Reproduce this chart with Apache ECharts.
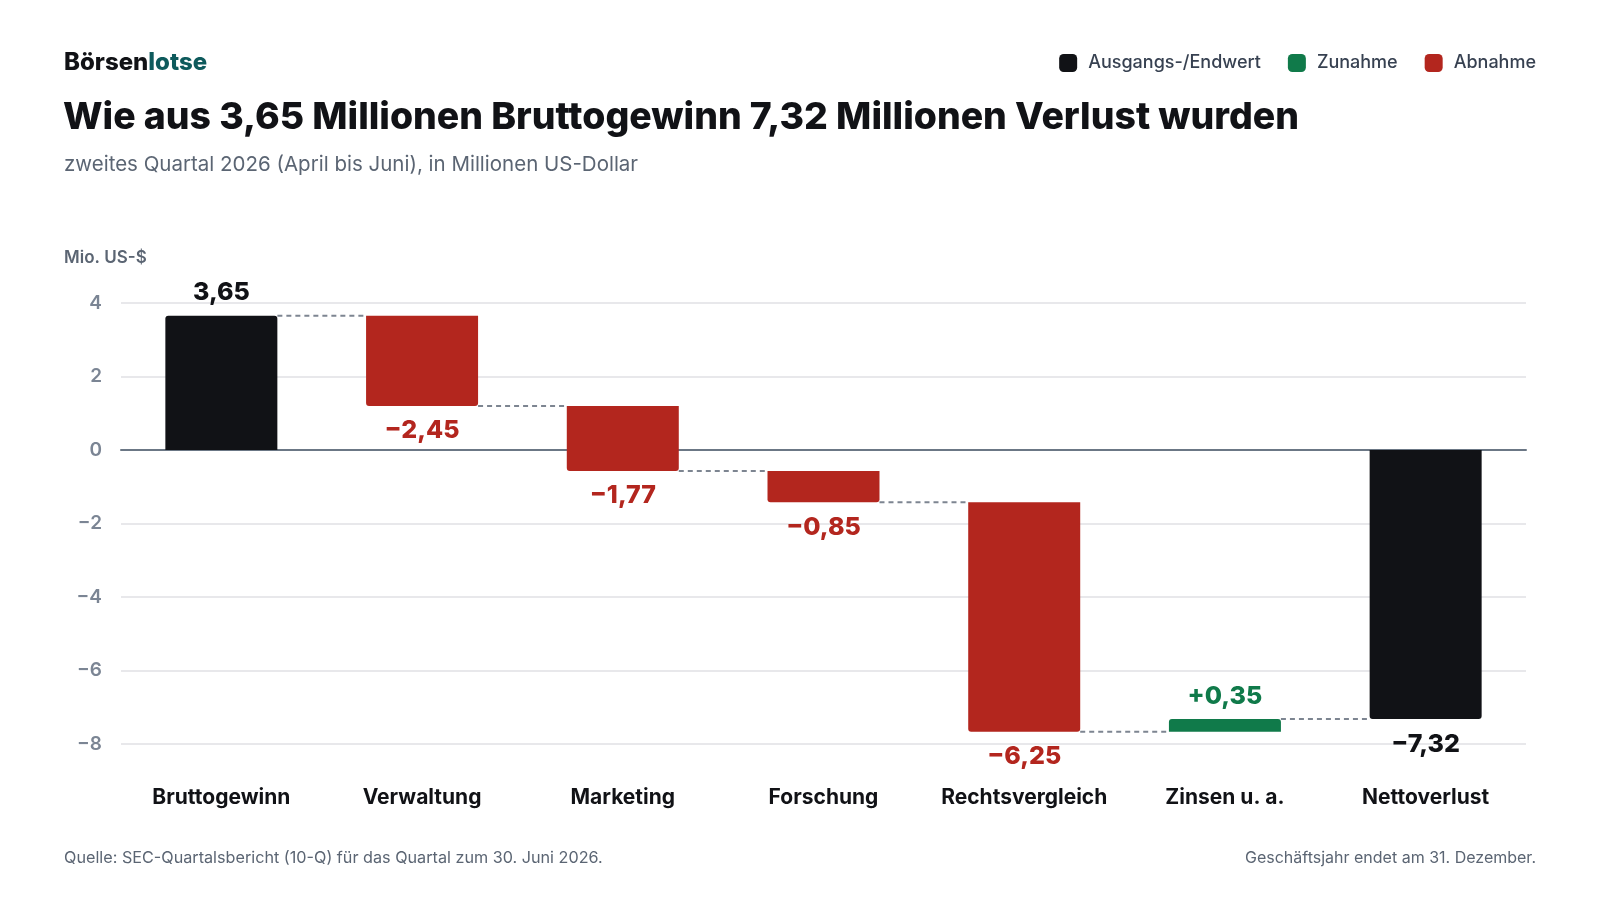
<!DOCTYPE html>
<html>
<head>
<meta charset="utf-8">
<title>Börsenlotse – Wasserfall</title>
<script src="https://cdn.jsdelivr.net/npm/echarts@6/dist/echarts.min.js"></script>
<style>
html, body { margin: 0; padding: 0; background: #ffffff; }
#mycharts { width: 1600px; height: 900px; }
</style>
</head>
<body>
<div id="mycharts"></div>
<script>
// Daten
var categories = ['Bruttogewinn', 'Verwaltung', 'Marketing', 'Forschung', 'Rechtsvergleich', 'Zinsen u. a.', 'Nettoverlust'];
var changes = [3.65, -2.45, -1.77, -0.85, -6.25, 0.35, -7.32];
var kinds = ['total', 'decrease', 'decrease', 'decrease', 'decrease', 'increase', 'total'];
var yTicks = [-8, -6, -4, -2, 0, 2, 4];

var colors = { total: '#111216', increase: '#107a4a', decrease: '#b3261e' };
var FONT = 'Inter, "Noto Sans", sans-serif';
var BAR_RATIO = 0.558;

// Start/Ende jeder Säule berechnen
var steps = [];
var running = 0;
for (var i = 0; i < changes.length; i++) {
	var start, end;
	if (kinds[i] == 'total') {
		start = 0;
		end = changes[i];
	} else {
		start = running;
		end = Math.round((running + changes[i]) * 100) / 100;
	}
	running = end;
	steps.push({ start: start, end: end });
}

function fmt(v, signed) {
	var s = Math.abs(v).toFixed(2).replace('.', ',');
	if (v < 0) return '\u2212' + s;
	if (signed) return '+' + s;
	return s;
}

function seriesData(kind) {
	var out = [];
	for (var i = 0; i < changes.length; i++) {
		if (kinds[i] == kind) out.push([i, steps[i].start, steps[i].end, changes[i]]);
	}
	return out;
}

function makeBarSeries(name, kind) {
	var color = colors[kind];
	return {
		name: name,
		type: 'custom',
		z: 3,
		itemStyle: { color: color },
		encode: { x: 0, y: [1, 2] },
		data: seriesData(kind),
		renderItem: function(params, api) {
			var idx = api.value(0), s = api.value(1), e = api.value(2), d = api.value(3);
			var pS = api.coord([idx, s]);
			var pE = api.coord([idx, e]);
			var w = api.size([1, 0])[0] * BAR_RATIO;
			var up = e > s;
			var top = Math.min(pS[1], pE[1]);
			var h = Math.abs(pS[1] - pE[1]);
			return {
				type: 'group',
				children: [{
					type: 'rect',
					shape: { x: pE[0] - w / 2, y: top, width: w, height: h, r: up ? [3, 3, 0, 0] : [0, 0, 3, 3] },
					style: { fill: color }
				}, {
					type: 'text',
					x: pE[0],
					y: pE[1] + (up ? -23 : 25),
					style: {
						text: fmt(d, kind != 'total'),
						fill: color,
						font: '800 25px ' + FONT,
						align: 'center',
						verticalAlign: 'middle'
					}
				}]
			};
		}
	};
}

var connectorData = [];
for (var j = 0; j < steps.length - 1; j++) {
	connectorData.push([j, steps[j].end]);
}

var myChart = echarts.init(document.getElementById('mycharts'));
myChart.setOption({
	backgroundColor: '#ffffff',
	animation: false,
	textStyle: { fontFamily: FONT },
	grid: { left: 121, right: 74, top: 303, bottom: 156 },
	legend: {
		right: 59,
		top: 49,
		icon: 'roundRect',
		itemWidth: 18,
		itemHeight: 18,
		itemGap: 27,
		selectedMode: false,
		textStyle: { fontSize: 18, fontWeight: 500, color: '#374151', fontFamily: FONT, padding: [0, 0, 0, 6] },
		data: ['Ausgangs-/Endwert', 'Zunahme', 'Abnahme']
	},
	graphic: [{
		type: 'text', x: 64, y: 63,
		style: {
			text: '{a|Börsen}{b|lotse}',
			verticalAlign: 'middle',
			rich: {
				a: { font: '800 24px ' + FONT, fill: '#111216' },
				b: { font: '800 24px ' + FONT, fill: '#0e5a5c' }
			}
		}
	}, {
		type: 'text', x: 63, y: 118,
		style: { text: 'Wie aus 3,65 Millionen Bruttogewinn 7,32 Millionen Verlust wurden', font: '800 37.4px ' + FONT, fill: '#111216', verticalAlign: 'middle' }
	}, {
		type: 'text', x: 64, y: 165,
		style: { text: 'zweites Quartal 2026 (April bis Juni), in Millionen US-Dollar', font: '400 20.5px ' + FONT, fill: '#5b6573', verticalAlign: 'middle' }
	}, {
		type: 'text', x: 64, y: 258,
		style: { text: 'Mio. US-$', font: '600 17px ' + FONT, fill: '#5b6573', verticalAlign: 'middle' }
	}, {
		type: 'text', x: 64, y: 858,
		style: { text: 'Quelle: SEC-Quartalsbericht (10-Q) für das Quartal zum 30. Juni 2026.', font: '400 16.2px ' + FONT, fill: '#5b6573', verticalAlign: 'middle' }
	}, {
		type: 'text', x: 1536, y: 858,
		style: { text: 'Geschäftsjahr endet am 31. Dezember.', font: '400 16px ' + FONT, fill: '#5b6573', align: 'right', verticalAlign: 'middle' }
	}],
	xAxis: [{
		type: 'category',
		data: categories,
		axisLine: { show: false, onZero: false },
		axisTick: { show: false },
		axisLabel: { interval: 0, margin: 43, fontSize: 21, fontWeight: 700, color: '#111216', fontFamily: FONT }
	}, {
		type: 'category',
		data: categories,
		position: 'bottom',
		axisLine: { show: true, onZero: true, onZeroAxisIndex: 0, lineStyle: { color: '#6b7785', width: 2 } },
		axisTick: { show: false },
		axisLabel: { show: false }
	}],
	yAxis: {
		type: 'value',
		min: yTicks[0],
		max: yTicks[yTicks.length - 1],
		interval: 2,
		axisLine: { show: false },
		axisTick: { show: false },
		axisLabel: {
			margin: 19,
			fontSize: 19,
			fontWeight: 600,
			color: '#7b8594',
			fontFamily: FONT,
			formatter: function(v) { return v < 0 ? '\u2212' + Math.abs(v) : String(v); }
		},
		splitLine: { lineStyle: { color: '#e8e8eb', width: 2 } }
	},
	series: [
		makeBarSeries('Ausgangs-/Endwert', 'total'),
		makeBarSeries('Zunahme', 'increase'),
		makeBarSeries('Abnahme', 'decrease'),
		{
			name: 'Verbindung',
			type: 'custom',
			z: 2,
			silent: true,
			encode: { x: 0, y: 1 },
			data: connectorData,
			renderItem: function(params, api) {
				var p = api.coord([api.value(0), api.value(1)]);
				var unit = api.size([1, 0])[0];
				var half = unit * BAR_RATIO / 2;
				return {
					type: 'line',
					shape: { x1: p[0] + half, y1: p[1], x2: p[0] + unit - half, y2: p[1] },
					style: { stroke: '#7d8591', lineWidth: 2, lineDash: [5, 4] }
				};
			}
		}
	]
});
</script>
</body>
</html>
